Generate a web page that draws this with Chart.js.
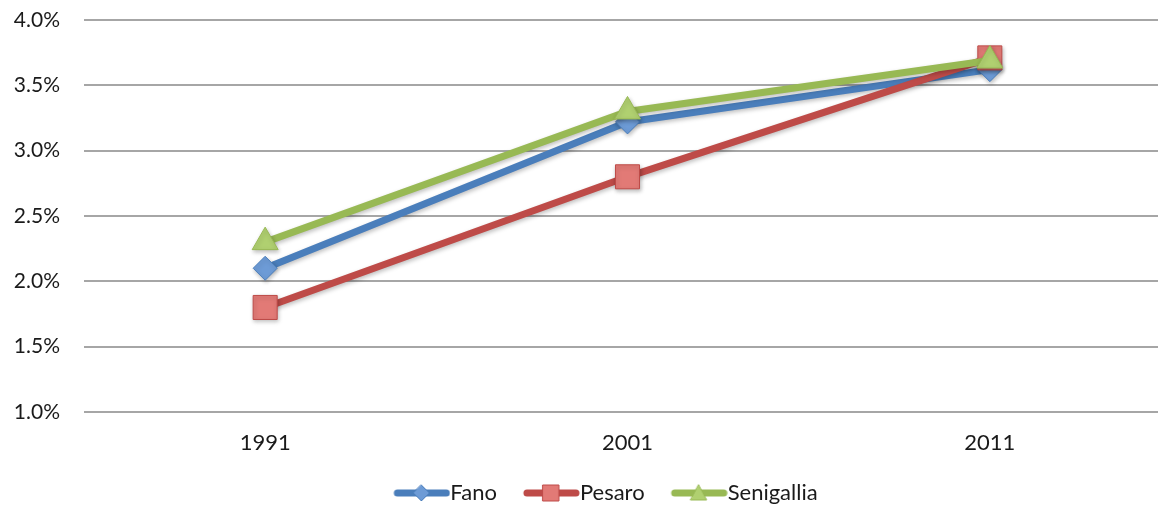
<!DOCTYPE html>
<html lang="it">
<head>
    <meta charset="UTF-8">
    <title>Fano Pesaro Senigallia</title>
    <script src="https://cdn.jsdelivr.net/npm/chart.js@4.4.0/dist/chart.umd.min.js"></script>
    <style>
        html, body { margin: 0; padding: 0; background: #fff; }
        #wrap { width: 1158px; height: 507px; }
    </style>
</head>
<body>
<div id="wrap"><canvas id="myChart" width="1158" height="507"></canvas></div>

<script>
    // data (percent)
    const years = ['1991', '2001', '2011'];
    const fano = [2.1, 3.22, 3.62];
    const pesaro = [1.8, 2.8, 3.71];
    const senigallia = [2.3, 3.3, 3.69];
    const yTicks = [1.0, 1.5, 2.0, 2.5, 3.0, 3.5, 4.0];

    const blue = '#4A7EBB', red = '#BE4B48', green = '#98B954';
    const FONT = { family: 'Lato', size: 22 };

    // line + marker picture for the legend; left 22px are blank so the
    // icon ends right where Chart.js starts the text
    function legendIcon(color, fill, shape) {
        const c = document.createElement('canvas');
        c.width = 79; c.height = 18;
        const g = c.getContext('2d');
        const x0 = 22, x1 = 79, mx = 50, my = 9;
        g.strokeStyle = color;
        g.lineWidth = 7;
        g.lineCap = 'round';
        g.beginPath(); g.moveTo(x0 + 4, my); g.lineTo(x1 - 4, my); g.stroke();
        g.fillStyle = fill;
        g.lineWidth = 1;
        g.beginPath();
        if (shape === 'diamond') {
            g.moveTo(mx, my - 8); g.lineTo(mx + 8, my); g.lineTo(mx, my + 8); g.lineTo(mx - 8, my);
        } else if (shape === 'square') {
            g.rect(mx - 8, my - 8, 16, 16);
        } else {
            g.moveTo(mx, my - 8); g.lineTo(mx + 8, my + 7); g.lineTo(mx - 8, my + 7);
        }
        g.closePath(); g.fill(); g.stroke();
        return c;
    }
    const icons = [
        legendIcon(blue, '#6D9BD6', 'diamond'),
        legendIcon(red, '#E27A76', 'square'),
        legendIcon(green, '#B0D070', 'triangle')
    ];

    // soft drop shadow under lines and markers
    const shadowPlugin = {
        id: 'markerShadow',
        beforeDatasetDraw: function(chart) {
            const c = chart.ctx;
            c.save();
            c.shadowColor = 'rgba(0,0,0,0.25)';
            c.shadowBlur = 4;
            c.shadowOffsetX = 1;
            c.shadowOffsetY = 2;
        },
        afterDatasetDraw: function(chart) {
            chart.ctx.restore();
        }
    };

    // the original is cropped on the right: plot area runs past the edge,
    // legend sits a bit right of the centre
    const cropFix = {
        id: 'cropFix',
        afterLayout: function(chart) {
            const right = 1171;
            const x = chart.scales.x;
            x.right = right;
            x.width = right - x.left;
            x.configure();
            chart.chartArea.right = right;
            chart.chartArea.width = right - chart.chartArea.left;
            if (chart.legend) chart.legend.left += 42;
        }
    };

    const ctx = document.getElementById('myChart').getContext('2d');
    const myChart = new Chart(ctx, {
        type: 'line',
        plugins: [shadowPlugin, cropFix],
        data: {
            labels: years,
            datasets: [{
                label: 'Fano',
                data: fano,
                borderColor: blue,
                backgroundColor: '#6D9BD6',
                borderWidth: 7,
                pointStyle: 'rectRot',
                pointRadius: 12,
                pointBorderWidth: 1,
                pointBorderColor: blue,
                order: 3
            }, {
                label: 'Pesaro',
                data: pesaro,
                borderColor: red,
                backgroundColor: '#E27A76',
                borderWidth: 7,
                pointStyle: 'rect',
                pointRadius: 17,
                pointBorderWidth: 1,
                pointBorderColor: red,
                order: 2
            }, {
                label: 'Senigallia',
                data: senigallia,
                borderColor: green,
                backgroundColor: '#B0D070',
                borderWidth: 7,
                pointStyle: 'triangle',
                pointRadius: 15,
                pointBorderWidth: 1,
                pointBorderColor: green,
                order: 1
            }]
        },
        options: {
            responsive: false,
            animation: false,
            layout: { autoPadding: false, padding: { top: 20, right: 0, left: 0, bottom: -7 } },
            font: FONT,
            plugins: {
                tooltip: { enabled: false },
                legend: {
                    position: 'bottom',
                    labels: {
                        color: '#1a1a1a',
                        font: FONT,
                        padding: 15,
                        usePointStyle: true,
                        pointStyleWidth: 57,
                        generateLabels: function(chart) {
                            return chart.data.datasets.map(function(ds, i) {
                                return {
                                    text: ds.label,
                                    pointStyle: icons[i],
                                    fillStyle: ds.backgroundColor,
                                    strokeStyle: ds.borderColor,
                                    lineWidth: 0,
                                    fontColor: '#1a1a1a',
                                    datasetIndex: i
                                };
                            });
                        }
                    }
                }
            },
            scales: {
                x: {
                    offset: true,
                    grid: { display: false },
                    border: { display: false },
                    ticks: { color: '#1a1a1a', font: FONT, padding: 10 },
                    afterFit: function(scale) { scale.height = 55; }
                },
                y: {
                    min: 1,
                    max: 4,
                    afterBuildTicks: function(scale) {
                        scale.ticks = yTicks.map(function(v) { return { value: v }; });
                    },
                    grid: { color: '#a6a6a6', lineWidth: 2, drawTicks: false },
                    border: { display: false },
                    ticks: {
                        color: '#1a1a1a',
                        font: { family: 'Lato', size: 21 },
                        padding: 24,
                        callback: function(v) { return Number(v).toFixed(1) + '%'; }
                    },
                    afterFit: function(scale) {
                        scale.width = 84;
                        scale.paddingTop = 0;
                        scale.paddingBottom = 0;
                    }
                }
            }
        }
    });
</script>
</body>
</html>
